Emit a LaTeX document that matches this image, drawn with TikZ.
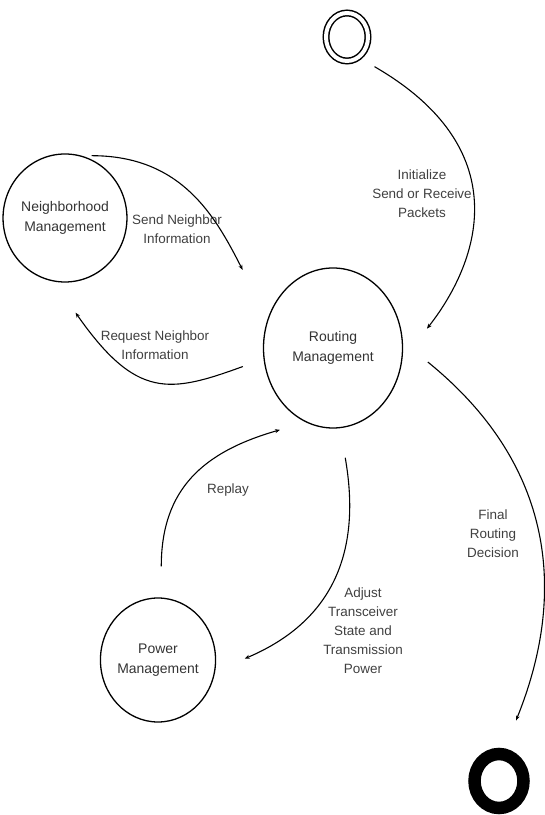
\documentclass[tikz,border=0pt]{standalone}
\usepackage{fontspec}
\setmainfont{Liberation Sans}
\usetikzlibrary{positioning, arrows.meta, shapes.geometric}

\begin{document}
\begin{tikzpicture}[x=1bp, y=1bp, >={Stealth[length=5bp, width=4bp]},
  state/.style={draw, ellipse, line width=1.3bp, inner sep=0pt, align=center, text=black!80, font=\fontsize{14}{20}\selectfont},
  lbl/.style={align=center, inner sep=0pt, text=black!75, font=\fontsize{13.5}{19}\selectfont},
  flow/.style={->, line width=1.1bp}]

\useasboundingbox (0,0) rectangle (545,815);

\node (routing) [state, minimum width=139bp, minimum height=160bp] at (333,467) {Routing\\Management};
\node (initial) [draw, ellipse, line width=1.5bp, double, double distance=4bp, minimum width=42bp, minimum height=48bp, inner sep=0pt, on grid, above right=311bp and 14bp of routing] {};
\node (nbr) [state, minimum width=111bp, minimum height=128bp, on grid, above left=130bp and 268bp of routing] {Neighborhood\\Management};
\node (power) [state, minimum width=106bp, minimum height=124bp, on grid, below left=312bp and 175bp of routing] {Power\\Management};
\node (final) [draw, ellipse, line width=12.5bp, minimum width=49bp, minimum height=54bp, inner sep=0pt, on grid, below right=433bp and 166bp of routing] {};

\node (initlbl) [lbl] at (422,621) {Initialize\\Send or Receive\\Packets};
\node (sendlbl) [lbl] at (177,586) {Send Neighbor\\Information};
\node (reqlbl) [lbl] at (155,470) {Request Neighbor\\Information};
\node (replaylbl) [lbl] at (228,325) {Replay};
\node (adjustlbl) [lbl] at (363,184) {Adjust\\Transceiver\\State and\\Transmission\\Power};
\node (finallbl) [lbl] at (493,281) {Final\\Routing\\Decision};

\draw[flow, shorten <=18bp, shorten >=40bp] (initial.-60) to[out=-30, in=52, out distance=180bp, in distance=130bp] (routing.-10);
\draw[flow, shorten <=10bp, shorten >=55bp] (nbr.75) to[out=0, in=117, out distance=100bp, in distance=115bp] (routing.156);
\draw[flow, shorten <=22bp, shorten >=38bp] (routing.189) to[out=200, in=-55, out distance=100bp, in distance=144bp] (nbr.260);
\draw[flow, shorten <=31bp, shorten >=27bp] (power.87) to[out=90, in=196, out distance=109bp, in distance=106bp] (routing.250);
\draw[flow, shorten <=30bp, shorten >=32bp] (routing.-85) to[out=-80, in=23, out distance=122bp, in distance=131bp] (power.-11);
\draw[flow, shorten <=32bp, shorten >=30bp] (routing.5) to[out=-39, in=68, out distance=186bp, in distance=177bp] (final.80);

\end{tikzpicture}
\end{document}
